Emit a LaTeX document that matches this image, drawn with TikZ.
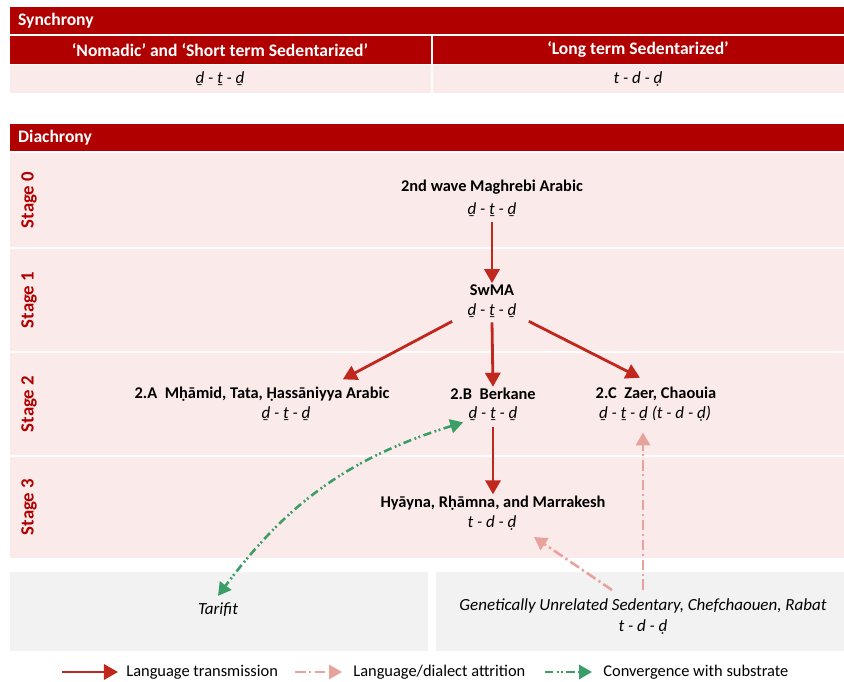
\documentclass[tikz,border=0pt]{standalone}
\usepackage{fontspec}
\setmainfont{Carlito}
\usepackage{tikz}
\usetikzlibrary{arrows.meta, positioning}
\definecolor{hdrred}{HTML}{B00000}
\definecolor{arrred}{HTML}{C0281E}
\definecolor{rowpink}{HTML}{FBEAEA}
\definecolor{boxgrey}{HTML}{F2F2F2}
\definecolor{attrpink}{HTML}{E8A29C}
\definecolor{convgreen}{HTML}{3A9E66}
\tikzset{
header/.style={fill=hdrred, draw=none}, % dark red bars
hdrtext/.style={text=white, font=\bfseries\fontsize{15}{17}\selectfont},
stagetext/.style={text=hdrred, rotate=90, font=\bfseries\fontsize{16}{18}\selectfont},
lang/.style={font=\bfseries\fontsize{14}{16}\selectfont, inner sep=1pt},
form/.style={font=\itshape\fontsize{14.5}{16}\selectfont, inner sep=1pt},
plain/.style={font=\fontsize{14}{16}\selectfont, inner sep=1pt},
trans/.style={arrred, line width=2.4pt, -{Triangle[length=12pt, width=13pt]}},
attr/.style={attrpink, line width=2.2pt, dash pattern=on 9pt off 3pt on 2pt off 3pt, -{Triangle[length=11pt, width=12pt]}},
conv/.style={convgreen, line width=2.2pt, dash pattern=on 7pt off 3pt on 1.6pt off 2pt on 1.6pt off 3pt, {Triangle[length=11pt, width=12pt]}-{Triangle[length=11pt, width=12pt]}},
}
\begin{document}
\begin{tikzpicture}[x=0.03cm, y=-0.03cm]
\useasboundingbox (0,0) rectangle (844,682);
% synchrony table
\fill[header] (10,7) rectangle (844,34);
\node[hdrtext, anchor=west] (synh) at (14,20.5) {Synchrony};
\fill[header] (10,36) rectangle (431,64);
\fill[header] (433,36) rectangle (844,64);
\node[hdrtext] (nomh) at (220,50) {‘Nomadic’ and ‘Short term Sedentarized’};
\node[hdrtext] (longh) at (638,50) {‘Long term Sedentarized’};
\fill[rowpink] (10,65) rectangle (431,93);
\fill[rowpink] (433,65) rectangle (844,93);
\node[form] (nomf) at (220,79) {ḏ - ṯ - ḏ};
\node[form] (longf) at (638,79) {t - d - ḍ};
% diachrony
\fill[header] (10,124) rectangle (844,151);
\node[hdrtext, anchor=west] (diah) at (14,137.5) {Diachrony};
\fill[rowpink] (10,153) rectangle (844,247);
\fill[rowpink] (10,249) rectangle (844,351);
\fill[rowpink] (10,353) rectangle (844,455);
\fill[rowpink] (10,457) rectangle (844,558);
\node[stagetext] (st0) at (29,200) {Stage 0};
\node[stagetext] (st1) at (29,300) {Stage 1};
\node[stagetext] (st2) at (29,404) {Stage 2};
\node[stagetext] (st3) at (29,507) {Stage 3};
% bottom boxes
\fill[boxgrey] (10,572) rectangle (428,651);
\fill[boxgrey] (436,572) rectangle (844,651);

% language nodes
\node[lang] (wave) at (492,187) {2nd wave Maghrebi Arabic};
\node[form] (wavef) at (492,210) {ḏ - ṯ - ḏ};
\node[lang] (swma) at (492,290) {SwMA};
\node[form] (swmaf) at (492,311) {ḏ - ṯ - ḏ};
\node[lang] (twoa) at (262,394) {2.A\ \ Mḥāmid, Tata, Ḥassāniyya Arabic};
\node[form] (twoaf) at (286,414) {ḏ - ṯ - ḏ};
\node[lang] (twob) at (493,394) {2.B\ \ Berkane};
\node[form] (twobf) at (493,414) {ḏ - ṯ - ḏ};
\node[lang] (twoc) at (656,394) {2.C\ \ Zaer, Chaouia};
\node[form] (twocf) at (655,414) {ḏ - ṯ - ḏ (t - d - ḍ)};
\node[lang] (hya) at (493,503) {Hyāyna, Rḥāmna, and Marrakesh};
\node[form] (hyaf) at (492,523) {t - d - ḍ};
\node[form] (tarifit) at (218,610) {Tarifit};
\node[form] (unrel) at (643,606) {Genetically Unrelated Sedentary, Chefchaouen, Rabat};
\node[form] (unrelf) at (643,627) {t - d - ḍ};

% connectors
\draw[trans] (wavef.south) ++(0,4) -- (swma.north);
\draw[trans] ([shift={(-14,2)}]swmaf.south west) -- ([shift={(-48,-6)}]twoa.north east);
\draw[trans] (swmaf.south) ++(0,3) -- (twob.north);
\draw[trans] ([shift={(11,2)}]swmaf.south east) -- ([shift={(-16,-8)}]twoc.north);
\draw[trans] (twobf.south) ++(0,5) -- (hya.north);
\coordinate (unrelA) at (612,590);
\coordinate (unrelB) at (643,590);
\draw[attr] (unrelA) -- (534,537);
\draw[attr] (unrelB) -- ([yshift=-8]twocf.south -| unrelB);
\draw[conv] ([shift={(-4,0)}]twobf.south west) to[bend right=18] ([yshift=5]tarifit.north);

% legend
\coordinate (l1a) at (62,672);
\coordinate (l1b) at (118,672);
\draw[trans] (l1a) -- (l1b);
\node[plain, anchor=west] (leg1) at (125,672) {Language transmission};
\coordinate (l2a) at (295,672);
\coordinate (l2b) at (342,672);
\draw[attr] (l2a) -- (l2b);
\node[plain, anchor=west] (leg2) at (352,672) {Language/dialect attrition};
\coordinate (l3a) at (545,672);
\coordinate (l3b) at (592,672);
\draw[conv, arrows={-Triangle[length=11pt, width=12pt]}] (l3a) -- (l3b);
\node[plain, anchor=west] (leg3) at (602,672) {Convergence with substrate};
\end{tikzpicture}
\end{document}
